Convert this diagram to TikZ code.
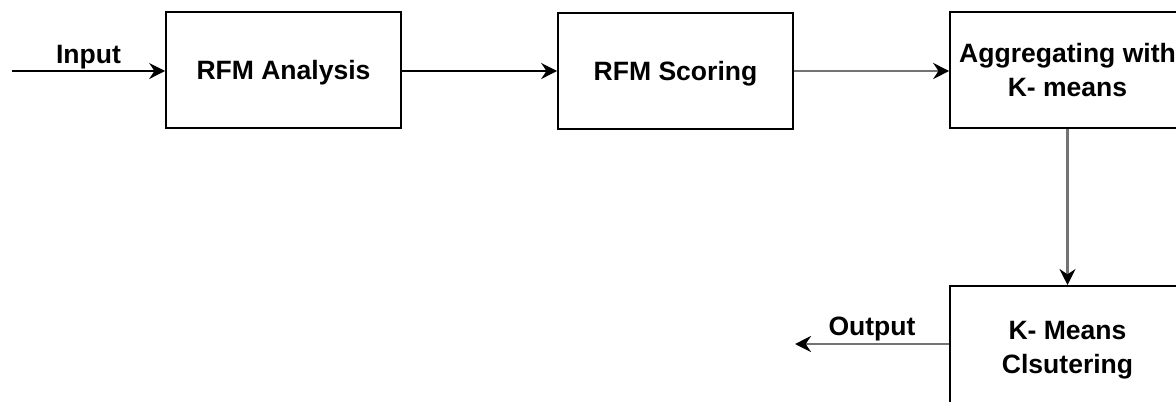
\documentclass[tikz,border=0pt]{standalone}
\usepackage{fontspec}
\setmainfont{Liberation Sans}
\usetikzlibrary{arrows.meta}
\tikzset{
  stagebox/.style={draw=black,line width=1.5pt,minimum width=176pt,minimum height=87pt,
    align=center,font=\bfseries\fontsize{19.9}{25.5}\selectfont,inner sep=0pt},
  flow/.style={line width=1.5pt,-{Stealth[length=12pt,width=12pt,inset=4pt]}},
  greyflow/.style={flow,line width=2pt,draw=black!55,-{Stealth[length=12pt,width=12pt,inset=4pt,color=black]}},
  lbl/.style={font=\bfseries\fontsize{19.9}{24}\selectfont,inner sep=0pt,anchor=base}
}
\begin{document}
\begin{tikzpicture}[x=0.75pt,y=-0.75pt]
  \useasboundingbox (0,0) rectangle (1176,401);
  \clip (0,0) rectangle (1176,401);
  % stages
  \node[stagebox,text depth=0pt] (ana) at (283.5,70) {RFM Analysis};
  \node[stagebox,text depth=0pt] (sco) at (675.5,70.5) {RFM Scoring};
  \node[stagebox] (agg) at (1067.5,70) {Aggregating with\\K- means};
  \node[stagebox,minimum height=96pt] (kmc) at (1067.5,350) {K- Means\\Clsutering};
  \coordinate (in) at (12,71);
  \coordinate (out) at (795,344);
  % connectors
  \draw[flow] (in) -- (ana.west |- in);
  \node[lbl] (inlbl) at (88.5,63) {Input};
  \draw[flow] (ana.east |- in) -- (sco.west |- in);
  \draw[greyflow] (sco.east |- in) -- (agg.west |- in);
  \draw[greyflow] (agg.south) -- (kmc.north);
  \draw[greyflow] (kmc.west |- out) -- (out);
  \node[lbl] (outlbl) at (872,335) {Output};
\end{tikzpicture}
\end{document}
